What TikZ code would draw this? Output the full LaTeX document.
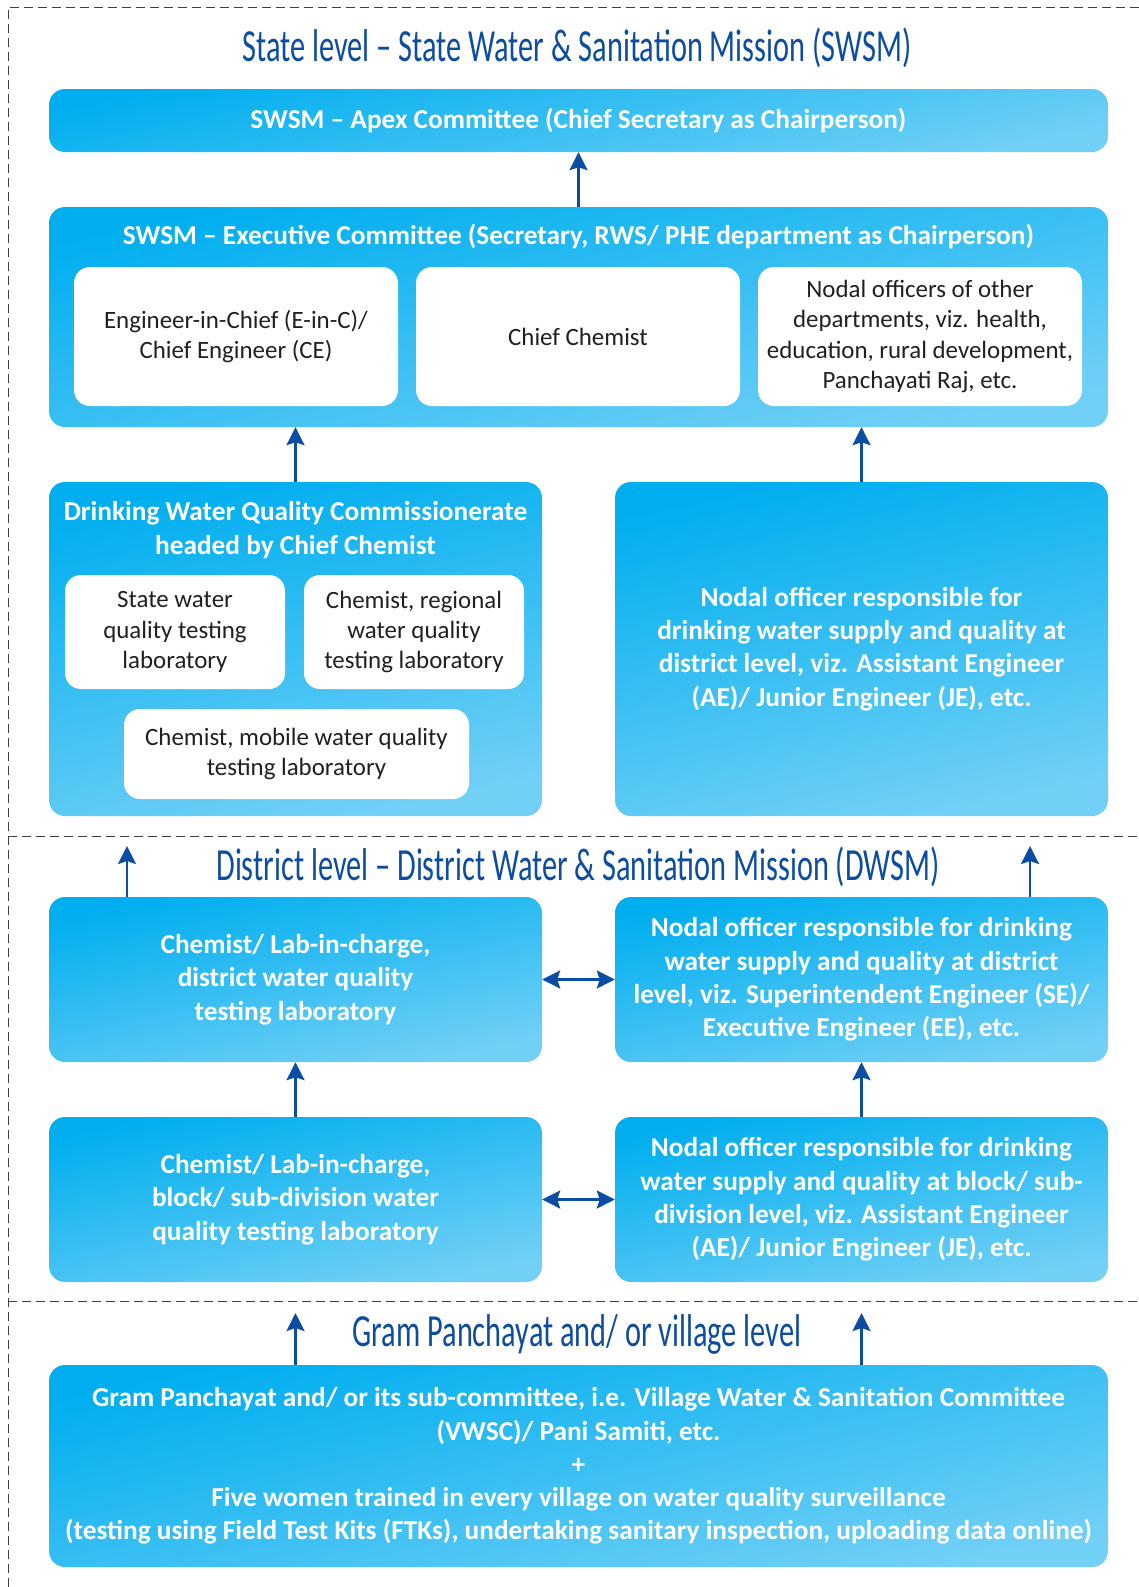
\documentclass[tikz,border=0pt]{standalone}
\usepackage{fontspec}
\setmainfont{Carlito}
\newfontfamily\headfont[FakeStretch=0.66]{Carlito}
\usetikzlibrary{positioning,calc,arrows.meta}

\definecolor{boxtop}{HTML}{00AEEF}
\definecolor{boxmid}{HTML}{00BEF0}
\definecolor{boxbot}{HTML}{72D0F6}
\definecolor{headblue}{HTML}{0D4C9F}
\definecolor{arrowblue}{HTML}{0A4DA2}
\definecolor{textgray}{HTML}{231F20}

\begin{document}
\begin{tikzpicture}[
    x=1pt, y=-1pt,
    bluebox/.style={rounded corners=16pt, top color=boxtop, middle color=boxmid, bottom color=boxbot, shading angle=12, text=white, font=\bfseries\fontsize{27.3}{33.3}\selectfont, align=center, inner sep=0pt},
    whitebox/.style={rounded corners=16pt, fill=white, text=textgray, font=\fontsize{24.9}{30.4}\selectfont, align=center, inner sep=0pt},
    heading/.style={text=headblue, font=\headfont\fontsize{46}{48}\selectfont},
    arrow/.style={-{Stealth[length=18pt, width=18pt, inset=3pt]}, line width=2.6pt, draw=arrowblue},
    twoway/.style={{Stealth[length=18pt, width=18pt, inset=3pt]}-{Stealth[length=18pt, width=18pt, inset=3pt]}, line width=2.6pt, draw=arrowblue},
    frame/.style={dash pattern=on 9pt off 5pt, line width=0.9pt, draw=black!75}
]
\useasboundingbox (0,0) rectangle (1139,1587);

% Dashed frame
\draw[frame] (8,1587) -- (8,7) -- (1139,7);
\draw[frame] (8,836) -- (1139,836);
\draw[frame] (8,1301) -- (1139,1301);

% State level
\node[heading] (statehead) at (577,48) {State level – State Water \& Sanitation Mission (SWSM)};
\node[bluebox, minimum width=1059pt, minimum height=63pt] (apex) at (578.5,120.5) {SWSM – Apex Committee (Chief Secretary as Chairperson)};
\node[bluebox, minimum width=1059pt, minimum height=220pt] (exec) at (578.5,317) {};
\node[text=white, font=\bfseries\fontsize{27.3}{33.3}\selectfont] (exectitle) at (578.5,237) {SWSM – Executive Committee (Secretary, RWS/ PHE department as Chairperson)};
\node[whitebox, minimum width=324pt, minimum height=139pt] (einc) at (236,336.5) {Engineer-in-Chief (E-in-C)/\\Chief Engineer (CE)};
\node[whitebox, minimum width=324pt, minimum height=139pt] (chiefchem) at (578,336.5) {Chief Chemist};
\node[whitebox, minimum width=324pt, minimum height=139pt] (nodaldept) at (920,336.5) {Nodal officers of other\\departments, viz. health,\\education, rural development,\\Panchayati Raj, etc.};

% Commissionerate and state nodal officer
\node[bluebox, minimum width=493pt, minimum height=334pt] (dwqc) at (295.5,649) {};
\node[text=white, align=center, font=\bfseries\fontsize{27.3}{34}\selectfont] (dwqctitle) at (295.5,530) {Drinking Water Quality Commissionerate\\headed by Chief Chemist};
\node[whitebox, minimum width=220pt, minimum height=114pt] (statelab) at (175,632) {State water\\quality testing\\laboratory};
\node[whitebox, minimum width=220pt, minimum height=114pt] (reglab) at (414,632) {Chemist, regional\\water quality\\testing laboratory};
\node[whitebox, minimum width=345pt, minimum height=90pt] (mobilelab) at (296.5,754) {Chemist, mobile water quality\\testing laboratory};
\node[bluebox, minimum width=493pt, minimum height=334pt] (statenodal) at (861.5,649) {Nodal officer responsible for\\drinking water supply and quality at\\district level, viz. Assistant Engineer\\(AE)/ Junior Engineer (JE), etc.};

\draw[arrow] (exec) -- (apex);
\draw[arrow] (dwqc.north) -- (dwqc.north |- exec.south);
\draw[arrow] (statenodal.north) -- (statenodal.north |- exec.south);

% District level
\node[heading] (disthead) at (578,867) {District level – District Water \& Sanitation Mission (DWSM)};
\node[bluebox, minimum width=493pt, minimum height=165pt] (distlab) at (295.5,979.5) {Chemist/ Lab-in-charge,\\district water quality\\testing laboratory};
\node[bluebox, minimum width=493pt, minimum height=165pt] (distnodal) at (861.5,979.5) {Nodal officer responsible for drinking\\water supply and quality at district\\level, viz. Superintendent Engineer (SE)/\\Executive Engineer (EE), etc.};
\node[bluebox, minimum width=493pt, minimum height=165pt] (blocklab) at (295.5,1199.5) {Chemist/ Lab-in-charge,\\block/ sub-division water\\quality testing laboratory};
\node[bluebox, minimum width=493pt, minimum height=165pt] (blocknodal) at (861.5,1199.5) {Nodal officer responsible for drinking\\water supply and quality at block/ sub-\\division level, viz. Assistant Engineer\\(AE)/ Junior Engineer (JE), etc.};

\coordinate (labup) at (127,846);
\coordinate (nodalup) at (1030,846);
\draw[arrow] (labup |- distlab.north) -- (labup);
\draw[arrow] (nodalup |- distnodal.north) -- (nodalup);
\draw[twoway] (distlab) -- (distnodal);
\draw[twoway] (blocklab) -- (blocknodal);
\draw[arrow] (blocklab) -- (distlab);
\draw[arrow] (blocknodal) -- (distnodal);

% Gram Panchayat level
\node[heading] (gphead) at (577,1334) {Gram Panchayat and/ or village level};
\node[bluebox, minimum width=1059pt, minimum height=202pt] (gp) at (578.5,1466) {Gram Panchayat and/ or its sub-committee, i.e. Village Water \& Sanitation Committee\\(VWSC)/ Pani Samiti, etc.\\+\\Five women trained in every village on water quality surveillance\\(testing using Field Test Kits (FTKs), undertaking sanitary inspection, uploading data online)};

\coordinate (gplab) at (295.5,1313);
\coordinate (gpnodal) at (861.5,1313);
\draw[arrow] (gplab |- gp.north) -- (gplab);
\draw[arrow] (gpnodal |- gp.north) -- (gpnodal);

\end{tikzpicture}
\end{document}
